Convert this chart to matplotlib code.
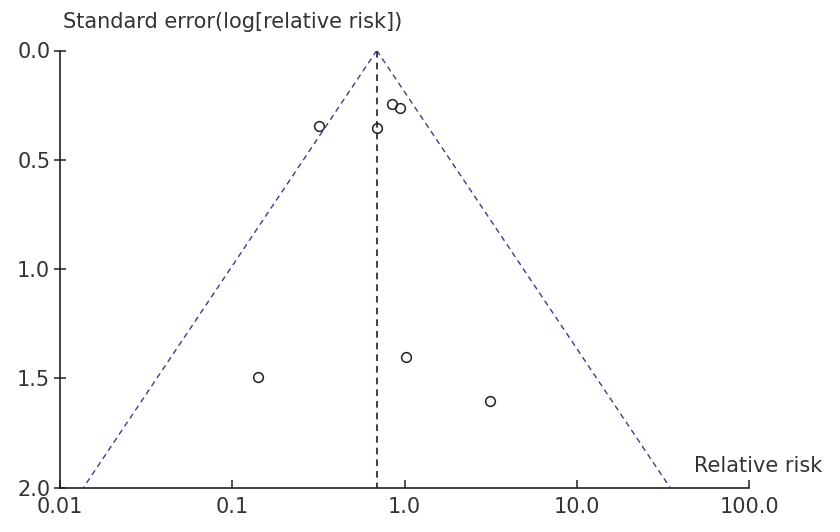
import numpy as np
import matplotlib
matplotlib.use("Agg")
import matplotlib.pyplot as plt

plt.rcParams['font.family'] = ['DejaVu Sans']

# Data
relative_risk = [0.320, 0.695, 0.841, 0.940, 0.140, 1.015, 3.13]
std_error = [0.345, 0.356, 0.245, 0.262, 1.495, 1.403, 1.602]
pooled_rr = 0.689
se_max = 2.0
x_ticks = [0.01, 0.1, 1.0, 10.0, 100.0]
x_tick_labels = ["0.01", "0.1", "1.0", "10.0", "100.0"]
y_ticks = [0.0, 0.5, 1.0, 1.5, 2.0]
y_tick_labels = ["0.0", "0.5", "1.0", "1.5", "2.0"]

fig = plt.figure(figsize=(8.4, 5.32), dpi=100)
ax = fig.add_axes([60/840, 1 - 487.7/532, (749.3 - 60)/840, (487.7 - 50.5)/532])

ax.set_xscale('log')
ax.set_xlim(0.01, 100)
ax.set_ylim(2.0, 0.0)

# Funnel (95% pseudo-confidence limits)
se_line = np.array([0.0, se_max])
ax.plot(pooled_rr * np.exp(-1.96 * se_line), se_line, ls=(0, (4, 3)), color='#3b3b8f', lw=1.0)
ax.plot(pooled_rr * np.exp(1.96 * se_line), se_line, ls=(0, (4, 3)), color='#3b3b8f', lw=1.0)
ax.plot([pooled_rr, pooled_rr], [0, se_max], ls=(0, (4, 3)), color='#1c1c3c', lw=1.2)

ax.plot(relative_risk, std_error, 'o', mfc='none', mec='#222222', ms=7, mew=1.1, ls='none')

for s in ['top', 'right']:
    ax.spines[s].set_visible(False)
for s in ['left', 'bottom']:
    ax.spines[s].set_color('#222222')
    ax.spines[s].set_linewidth(1.2)

ax.set_xticks(x_ticks)
ax.set_xticklabels(x_tick_labels)
ax.minorticks_off()
ax.set_yticks(y_ticks)
ax.set_yticklabels(y_tick_labels)
ax.tick_params(axis='x', direction='in', length=6, width=1.1, pad=7, labelsize=15, colors='#222222', labelcolor='#333333')
ax.tick_params(axis='y', direction='inout', length=8, width=1.1, pad=3, labelsize=15, colors='#222222', labelcolor='#333333')

fig.text(63/840, 1 - 22/532, "Standard error(log[relative risk])", fontsize=15, color='#333333', ha='left', va='center')
fig.text(694/840, 1 - 466/532, "Relative risk", fontsize=15, color='#333333', ha='left', va='center')

fig.savefig("out.png", dpi=100)
